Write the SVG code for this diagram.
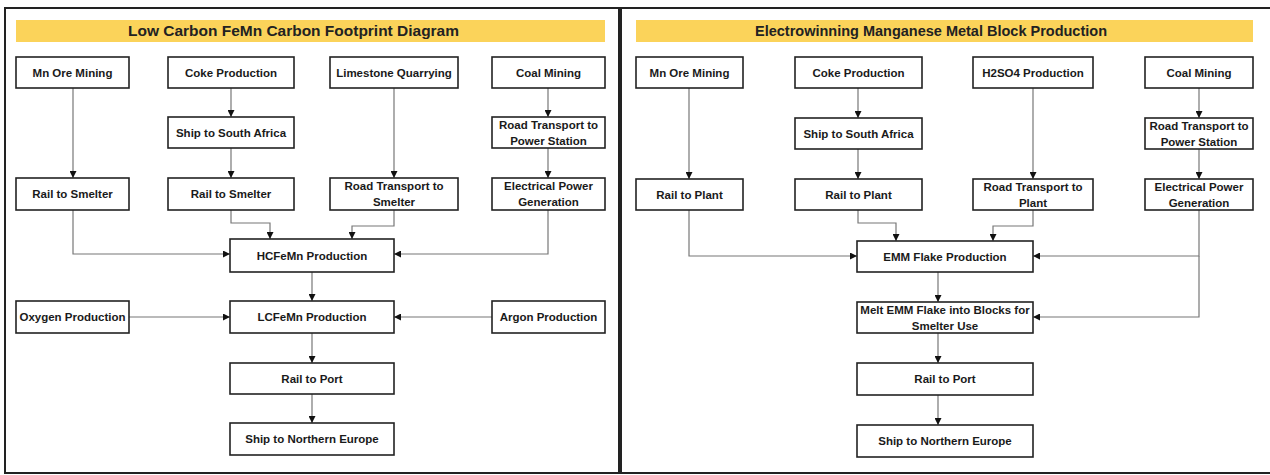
<svg xmlns="http://www.w3.org/2000/svg" width="1270" height="475" viewBox="0 0 1270 475">
<defs>
<marker id="ah" viewBox="0 0 10 10" refX="10" refY="5" markerWidth="7" markerHeight="7" markerUnits="userSpaceOnUse" orient="auto">
<path d="M0,0 L10,5 L0,10 z" fill="#111"/>
</marker>
<style>
.frame{fill:#fff;stroke:#222;stroke-width:2}
.bar{fill:#fbd35a}
.title{font-family:"Liberation Sans",Arial,sans-serif;font-weight:bold;font-size:14.5px;fill:#222;text-anchor:middle;dominant-baseline:central}
.n rect{fill:#fff;stroke:#222;stroke-width:1.6}
.n text{font-family:"Liberation Sans",Arial,sans-serif;font-weight:bold;font-size:11.5px;fill:#1a1a1a;text-anchor:middle;dominant-baseline:central}
.c path{fill:none;stroke:#777;stroke-width:1.2;marker-end:url(#ah)}
</style>
</defs>
<rect width="1270" height="475" fill="#fff"/>
<rect class="frame" x="5" y="8" width="614" height="465"/>
<rect class="frame" x="621" y="8" width="660" height="465"/>
<rect class="bar" x="16" y="20" width="589" height="22"/>
<text class="title" x="293.5" y="31" textLength="331" lengthAdjust="spacingAndGlyphs">Low Carbon FeMn Carbon Footprint Diagram</text>
<rect class="bar" x="636" y="20" width="617" height="22"/>
<text class="title" x="931" y="31" textLength="352" lengthAdjust="spacingAndGlyphs">Electrowinning Manganese Metal Block Production</text>

<g class="c" id="connectors">
<path d="M73,88 V178"/>
<path d="M231,88 V117"/>
<path d="M231,148 V178"/>
<path d="M394,88 V178"/>
<path d="M548,88 V117"/>
<path d="M548,148 V178"/>
<path d="M73,210 V254 H230"/>
<path d="M231,210 V223 H270 V239"/>
<path d="M394,210 V226 H352 V239"/>
<path d="M548,210 V254 H394"/>
<path d="M312,272 V301"/>
<path d="M129,317 H230"/>
<path d="M492,317 H394"/>
<path d="M312,333 V363"/>
<path d="M312,394 V423"/>

<path d="M689,88 V179"/>
<path d="M858,88 V118"/>
<path d="M858,149 V179"/>
<path d="M1033,88 V179"/>
<path d="M1199,88 V118"/>
<path d="M1199,149 V179"/>
<path d="M689,210 V256 H857"/>
<path d="M858,210 V223 H896 V241"/>
<path d="M1033,210 V226 H993 V241"/>
<path d="M1199,210 V256 H1033"/>
<path d="M1199,256 V317 H1033"/>
<path d="M938,272 V302"/>
<path d="M938,333 V363"/>
<path d="M938,395 V425"/>
</g>

<g class="n" id="l-mn"><rect x="16" y="57" width="113" height="31"/><text x="72.5" y="72.5">Mn Ore Mining</text></g>
<g class="n" id="l-coke"><rect x="168" y="57" width="126" height="31"/><text x="231" y="72.5">Coke Production</text></g>
<g class="n" id="l-lime"><rect x="330" y="57" width="128" height="31"/><text x="394" y="72.5">Limestone Quarrying</text></g>
<g class="n" id="l-coal"><rect x="492" y="57" width="113" height="31"/><text x="548.5" y="72.5">Coal Mining</text></g>
<g class="n" id="l-ship"><rect x="168" y="117" width="126" height="31"/><text x="231" y="132.5">Ship to South Africa</text></g>
<g class="n" id="l-roadps"><rect x="492" y="117" width="113" height="31"/><text x="548.5" y="125">Road Transport to</text><text x="548.5" y="140.5">Power Station</text></g>
<g class="n" id="l-rail1"><rect x="16" y="178" width="113" height="32"/><text x="72.5" y="194">Rail to Smelter</text></g>
<g class="n" id="l-rail2"><rect x="168" y="178" width="126" height="32"/><text x="231" y="194">Rail to Smelter</text></g>
<g class="n" id="l-roads"><rect x="330" y="178" width="128" height="32"/><text x="394" y="186">Road Transport to</text><text x="394" y="202">Smelter</text></g>
<g class="n" id="l-elec"><rect x="492" y="178" width="113" height="32"/><text x="548.5" y="186">Electrical Power</text><text x="548.5" y="202">Generation</text></g>
<g class="n" id="l-hc"><rect x="230" y="239" width="164" height="33"/><text x="312" y="255.5">HCFeMn Production</text></g>
<g class="n" id="l-oxy"><rect x="16" y="301" width="113" height="32"/><text x="72.5" y="317">Oxygen Production</text></g>
<g class="n" id="l-lc"><rect x="230" y="301" width="164" height="32"/><text x="312" y="317">LCFeMn Production</text></g>
<g class="n" id="l-argon"><rect x="492" y="301" width="113" height="32"/><text x="548.5" y="317">Argon Production</text></g>
<g class="n" id="l-port"><rect x="230" y="363" width="164" height="31"/><text x="312" y="378.5">Rail to Port</text></g>
<g class="n" id="l-eu"><rect x="230" y="423" width="164" height="32"/><text x="312" y="439">Ship to Northern Europe</text></g>

<g class="n" id="r-mn"><rect x="636" y="57" width="107" height="31"/><text x="689.5" y="72.5">Mn Ore Mining</text></g>
<g class="n" id="r-coke"><rect x="795" y="57" width="127" height="31"/><text x="858.5" y="72.5">Coke Production</text></g>
<g class="n" id="r-h2so4"><rect x="973" y="57" width="120" height="31"/><text x="1033" y="72.5">H2SO4 Production</text></g>
<g class="n" id="r-coal"><rect x="1145" y="57" width="108" height="31"/><text x="1199" y="72.5">Coal Mining</text></g>
<g class="n" id="r-ship"><rect x="795" y="118" width="127" height="31"/><text x="858.5" y="133.5">Ship to South Africa</text></g>
<g class="n" id="r-roadps"><rect x="1145" y="118" width="108" height="31"/><text x="1199" y="126">Road Transport to</text><text x="1199" y="141.5">Power Station</text></g>
<g class="n" id="r-rail1"><rect x="636" y="179" width="107" height="31"/><text x="689.5" y="194.5">Rail to Plant</text></g>
<g class="n" id="r-rail2"><rect x="795" y="179" width="127" height="31"/><text x="858.5" y="194.5">Rail to Plant</text></g>
<g class="n" id="r-roadp"><rect x="973" y="179" width="120" height="31"/><text x="1033" y="187">Road Transport to</text><text x="1033" y="202.5">Plant</text></g>
<g class="n" id="r-elec"><rect x="1145" y="179" width="108" height="31"/><text x="1199" y="187">Electrical Power</text><text x="1199" y="202.5">Generation</text></g>
<g class="n" id="r-emm"><rect x="857" y="241" width="176" height="31"/><text x="945" y="256.5">EMM Flake Production</text></g>
<g class="n" id="r-melt"><rect x="857" y="302" width="176" height="31"/><text x="945" y="310">Melt EMM Flake into Blocks for</text><text x="945" y="325.5">Smelter Use</text></g>
<g class="n" id="r-port"><rect x="857" y="363" width="176" height="32"/><text x="945" y="379">Rail to Port</text></g>
<g class="n" id="r-eu"><rect x="857" y="425" width="176" height="32"/><text x="945" y="441">Ship to Northern Europe</text></g>
</svg>
